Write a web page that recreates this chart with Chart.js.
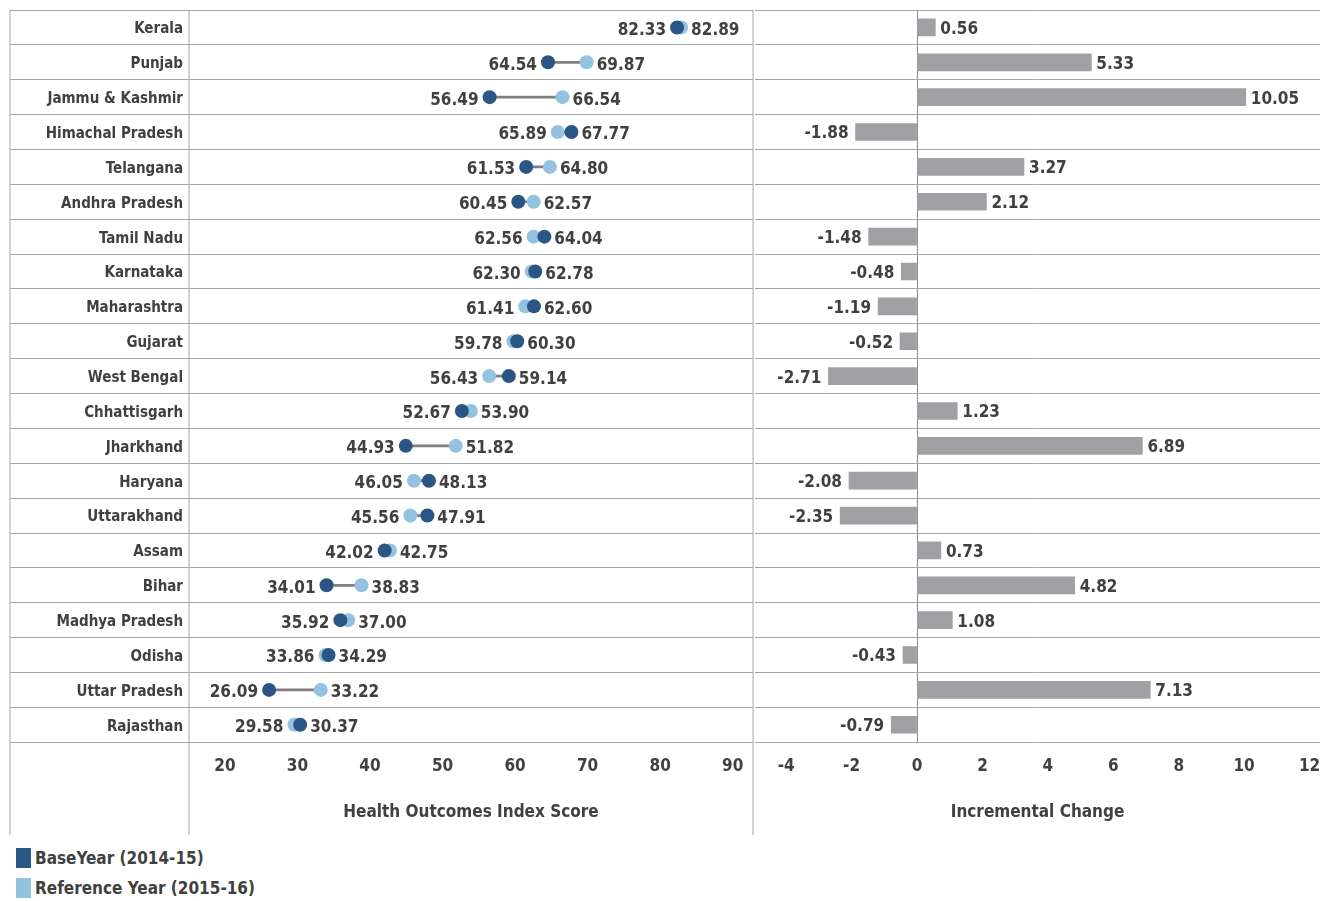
<!DOCTYPE html>
<html lang="en">
<head>
<meta charset="UTF-8">
<title>Health Outcomes Index - Incremental Change</title>
<script src="https://cdn.jsdelivr.net/npm/chart.js"></script>
<style>
    body {
        margin: 0;
        background: #fff;
        font-family: "DejaVu Sans Condensed", "DejaVu Sans", sans-serif;
    }

    #wrap {
        position: relative;
        width: 1320px;
        height: 901px;
    }

    #leftBox {
        position: absolute;
        left: 0;
        top: 0;
        width: 760px;
        height: 840px;
    }

    #rightBox {
        position: absolute;
        left: 755px;
        top: 0;
        width: 565px;
        height: 840px;
    }

    #legend {
        position: absolute;
        left: 16px;
        top: 843px;
    }

    .item {
        display: flex;
        align-items: center;
        height: 30px;
        font-weight: bold;
        font-size: 17px;
        color: #404040;
    }

    .swatch {
        width: 15px;
        height: 20px;
        margin-right: 4px;
    }
</style>
</head>
<body>
<div id="wrap">
    <div id="leftBox"><canvas id="scoreChart"></canvas></div>
    <div id="rightBox"><canvas id="changeChart"></canvas></div>
    <div id="legend"></div>
</div>

<script>
    const states = ["Kerala", "Punjab", "Jammu & Kashmir", "Himachal Pradesh", "Telangana", "Andhra Pradesh",
        "Tamil Nadu", "Karnataka", "Maharashtra", "Gujarat", "West Bengal", "Chhattisgarh", "Jharkhand",
        "Haryana", "Uttarakhand", "Assam", "Bihar", "Madhya Pradesh", "Odisha", "Uttar Pradesh", "Rajasthan"];
    const baseYear = [82.33, 64.54, 56.49, 67.77, 61.53, 60.45, 64.04, 62.78, 62.60, 60.30, 59.14,
        52.67, 44.93, 48.13, 47.91, 42.02, 34.01, 35.92, 34.29, 26.09, 30.37];
    const refYear = [82.89, 69.87, 66.54, 65.89, 64.80, 62.57, 62.56, 62.30, 61.41, 59.78, 56.43,
        53.90, 51.82, 46.05, 45.56, 42.75, 38.83, 37.00, 33.86, 33.22, 29.58];
    const change = [0.56, 5.33, 10.05, -1.88, 3.27, 2.12, -1.48, -0.48, -1.19, -0.52, -2.71,
        1.23, 6.89, -2.08, -2.35, 0.73, 4.82, 1.08, -0.43, 7.13, -0.79];
    const scoreTicks = [20, 30, 40, 50, 60, 70, 80, 90];
    const changeTicks = [-4, -2, 0, 2, 4, 6, 8, 10, 12];

    const FONT = "'DejaVu Sans Condensed', 'DejaVu Sans', sans-serif";
    const TEXT = "#404040";
    const GRID = "#a6a6a6";
    const DARK = "#2a5685";
    const LIGHT = "#93c3e0";

    // vertical frame lines that run past the plot into the axis area
    const frameLines = {
        id: "frameLines",
        afterDraw(chart) {
            const ctx = chart.ctx;
            const area = chart.chartArea;
            const xs = [chart.scales.y.left, area.left, area.right];
            ctx.save();
            ctx.strokeStyle = GRID;
            ctx.lineWidth = 1;
            xs.forEach(x => {
                ctx.beginPath();
                ctx.moveTo(x, area.top);
                ctx.lineTo(x, chart.height - 5);
                ctx.stroke();
            });
            ctx.restore();
        }
    };

    const scoreLabels = {
        id: "scoreLabels",
        afterDatasetsDraw(chart) {
            const ctx = chart.ctx;
            const base = chart.getDatasetMeta(1).data;
            const ref = chart.getDatasetMeta(2).data;
            ctx.save();
            ctx.font = "bold 17px " + FONT;
            ctx.fillStyle = TEXT;
            ctx.textBaseline = "middle";
            states.forEach((s, i) => {
                const a = { x: base[i].x, y: base[i].y, v: baseYear[i] };
                const b = { x: ref[i].x, y: ref[i].y, v: refYear[i] };
                const lo = a.v <= b.v ? a : b;
                const hi = a.v <= b.v ? b : a;
                ctx.textAlign = "right";
                ctx.fillText(lo.v.toFixed(2), lo.x - 11, lo.y + 3);
                ctx.textAlign = "left";
                ctx.fillText(hi.v.toFixed(2), hi.x + 10, hi.y + 3);
            });
            ctx.restore();
        }
    };

    const changeLabels = {
        id: "changeLabels",
        afterDatasetsDraw(chart) {
            const ctx = chart.ctx;
            const bars = chart.getDatasetMeta(0).data;
            ctx.save();
            ctx.font = "bold 17px " + FONT;
            ctx.fillStyle = TEXT;
            ctx.textBaseline = "middle";
            bars.forEach((bar, i) => {
                const v = change[i];
                if (v >= 0) {
                    ctx.textAlign = "left";
                    ctx.fillText(v.toFixed(2), bar.x + 5, bar.y + 2);
                } else {
                    ctx.textAlign = "right";
                    ctx.fillText(v.toFixed(2), bar.x - 7, bar.y + 2);
                }
            });
            ctx.restore();
        }
    };

    const tickFont = { family: FONT, size: 17, weight: "bold" };
    const noEdgePadding = s => { s.paddingLeft = 0; s.paddingRight = 0; };

    const scoreChart = new Chart(document.getElementById("scoreChart"), {
        type: "bar",
        data: {
            labels: states,
            datasets: [{
                label: "Gap",
                data: baseYear.map((v, i) => [v, refYear[i]]),
                backgroundColor: "#7f7f7f",
                barThickness: 2,
                order: 2
            }, {
                type: "line",
                label: "BaseYear (2014-15)",
                data: baseYear,
                indexAxis: "y",
                showLine: false,
                pointRadius: 7,
                pointBorderWidth: 0,
                pointBackgroundColor: DARK,
                backgroundColor: DARK,
                order: 0
            }, {
                type: "line",
                label: "Reference Year (2015-16)",
                data: refYear,
                indexAxis: "y",
                showLine: false,
                pointRadius: 7,
                pointBorderWidth: 0,
                pointBackgroundColor: LIGHT,
                backgroundColor: LIGHT,
                order: 1
            }]
        },
        options: {
            indexAxis: "y",
            responsive: true,
            maintainAspectRatio: false,
            animation: false,
            layout: { padding: { left: 10, top: 10, right: 5, bottom: 14 } },
            plugins: { legend: { display: false }, tooltip: { enabled: false } },
            scales: {
                x: {
                    type: "linear",
                    min: 15.05,
                    max: 92.8,
                    afterBuildTicks: s => { s.ticks = scoreTicks.map(v => ({ value: v })); },
                    afterFit: noEdgePadding,
                    grid: { display: false, drawTicks: false },
                    border: { display: false },
                    ticks: { padding: 14, color: TEXT, font: tickFont },
                    title: {
                        display: true,
                        text: "Health Outcomes Index Score",
                        color: TEXT,
                        font: tickFont,
                        padding: { top: 12, bottom: 3 }
                    }
                },
                y: {
                    offset: true,
                    grid: { offset: true, color: GRID, lineWidth: 1, drawTicks: true, tickLength: 179 },
                    border: { display: false },
                    ticks: {
                        padding: -173,
                        autoSkip: false,
                        labelOffset: 2,
                        color: TEXT,
                        font: { family: FONT, size: 15, weight: "bold" }
                    },
                    afterFit: s => { s.width = 179; }
                }
            }
        },
        plugins: [frameLines, scoreLabels]
    });

    new Chart(document.getElementById("changeChart"), {
        type: "bar",
        data: {
            labels: states,
            datasets: [{
                label: "Incremental Change",
                data: change,
                backgroundColor: "#a0a0a4",
                barThickness: 17
            }]
        },
        options: {
            indexAxis: "y",
            responsive: true,
            maintainAspectRatio: false,
            animation: false,
            layout: { padding: { left: 0, top: 10, right: 0, bottom: 14 } },
            plugins: { legend: { display: false }, tooltip: { enabled: false } },
            scales: {
                x: {
                    type: "linear",
                    min: -4.954,
                    max: 12.32,
                    afterBuildTicks: s => { s.ticks = changeTicks.map(v => ({ value: v })); },
                    afterFit: noEdgePadding,
                    grid: {
                        drawTicks: false,
                        color: c => (c.tick && c.tick.value === 0 ? "#8c8c8c" : "rgba(0,0,0,0)")
                    },
                    border: { display: false },
                    ticks: { padding: 14, color: TEXT, font: tickFont },
                    title: {
                        display: true,
                        text: "Incremental Change",
                        color: TEXT,
                        font: tickFont,
                        padding: { top: 12, bottom: 3 }
                    }
                },
                y: {
                    offset: true,
                    grid: { offset: true, color: GRID, lineWidth: 1, drawTicks: false },
                    border: { display: false },
                    ticks: { display: false },
                    afterFit: s => { s.width = 0; }
                }
            }
        },
        plugins: [changeLabels]
    });

    // html legend from the two point series
    const legend = document.getElementById("legend");
    scoreChart.data.datasets.slice(1).forEach(ds => {
        const row = document.createElement("div");
        row.className = "item";
        const sw = document.createElement("span");
        sw.className = "swatch";
        sw.style.background = ds.pointBackgroundColor;
        row.appendChild(sw);
        row.appendChild(document.createTextNode(ds.label));
        legend.appendChild(row);
    });
</script>
</body>
</html>
